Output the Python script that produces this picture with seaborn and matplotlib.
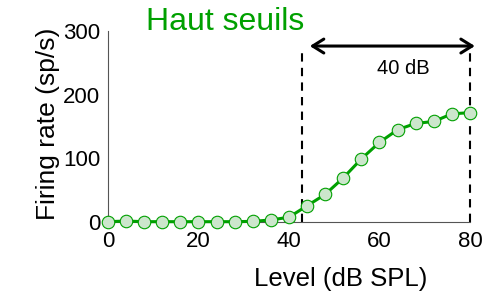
import numpy as np
import pandas as pd
import seaborn as sns
import matplotlib.pyplot as plt
from matplotlib.patches import FancyArrowPatch

# Data
level_db = [0, 4, 8, 12, 16, 20, 24, 28, 32, 36, 40, 44, 48, 52, 56, 60, 64, 68, 72, 76, 80]
firing_rate = [0, 1, 0, 0, 0, 0, 0, 0, 0.5, 2.7, 7, 25, 43, 69, 99, 125, 145, 155, 158, 170, 172]
threshold_db = 42.8
saturation_db = 80
range_label = "40 dB"
title = "Haut seuils"

green = "#00a000"
fill = "#cce6cc"

sns.set_theme(style="white")
plt.rcParams['font.family'] = ['Liberation Sans', 'DejaVu Sans']
plt.rcParams['text.color'] = 'black'
plt.rcParams['axes.labelcolor'] = 'black'
plt.rcParams['xtick.labelcolor'] = 'black'
plt.rcParams['ytick.labelcolor'] = 'black'

df = pd.DataFrame({"level": level_db, "rate": firing_rate})

fig = plt.figure(figsize=(4.86, 2.94), dpi=100)
ax = fig.add_axes([0.222, 0.246, 0.745, 0.647])

sns.lineplot(data=df, x="level", y="rate", ax=ax, color=green, linewidth=2.2,
             marker="o", markersize=9, markerfacecolor=fill,
             markeredgecolor=green, markeredgewidth=0.8, clip_on=False, zorder=3)

# dashed lines marking threshold and saturation
for xv in [threshold_db, saturation_db]:
    ax.plot([xv, xv], [0, 270], color="black", linestyle=(0, (4, 3)),
            linewidth=1.5, clip_on=False, zorder=2)

arrow = FancyArrowPatch((threshold_db + 1.2, 277), (saturation_db + 1.7, 277),
                        arrowstyle="<->,head_length=8,head_width=5",
                        color="black", linewidth=2.2, clip_on=False,
                        mutation_scale=1)
ax.add_patch(arrow)
ax.text(65.2, 241, range_label, fontsize=14.5, ha="center", va="center")

ax.text(25.9, 315, title, color=green, fontsize=23, ha="center", va="center",
        clip_on=False)

ax.set_xlim(0, 80)
ax.set_ylim(0, 300)
ax.set_xticks([0, 20, 40, 60, 80])
ax.set_yticks([0, 100, 200, 300])
ax.tick_params(axis="both", direction="in", length=4, color="#555555",
               labelsize=16)
ax.tick_params(axis="x", pad=6.5)
ax.tick_params(axis="y", pad=5.5)
ax.set_xlabel("Level (dB SPL)", fontsize=18.5, va="center")
ax.set_ylabel("Firing rate (sp/s)", fontsize=19, va="center")
ax.xaxis.set_label_coords(0.644, -0.301)
ax.yaxis.set_label_coords(-0.166, 0.514)

for side in ["top", "right"]:
    ax.spines[side].set_visible(False)
for side in ["left", "bottom"]:
    ax.spines[side].set_color("#555555")
    ax.spines[side].set_linewidth(0.8)

plt.savefig("out.png", dpi=100)
